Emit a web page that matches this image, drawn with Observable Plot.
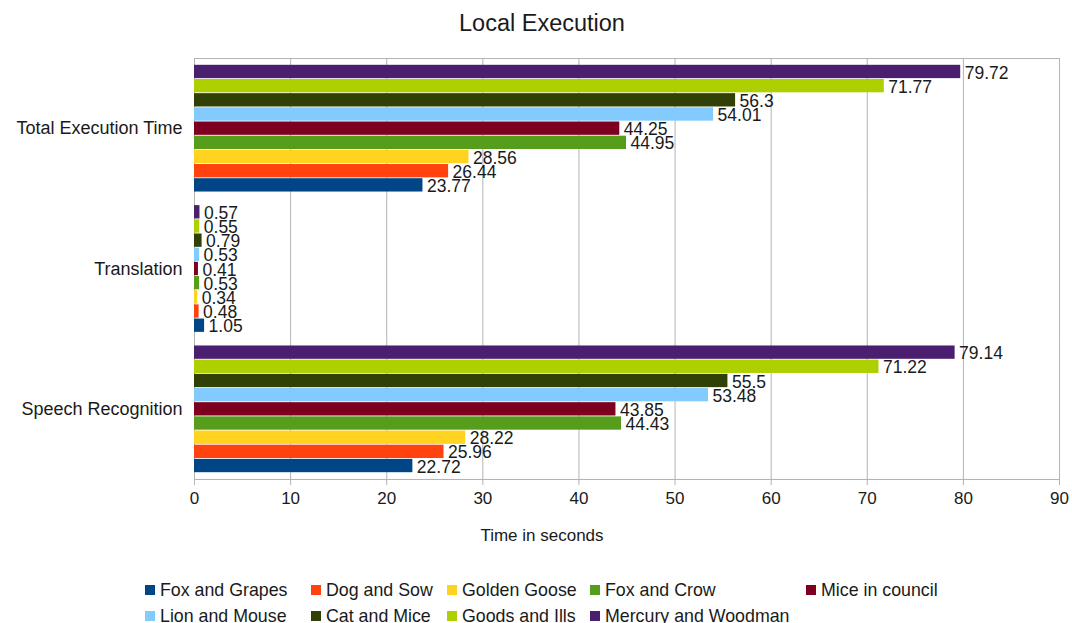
<!DOCTYPE html>
<html>
<head>
<meta charset="utf-8">
<script src="https://cdn.jsdelivr.net/npm/d3@7"></script>
<script src="https://cdn.jsdelivr.net/npm/@observablehq/plot@0.6"></script>
<style>
  html, body { margin: 0; padding: 0; background: #fff; }
  body { width: 1072px; height: 623px; overflow: hidden; font-family: "Liberation Sans", Arial, sans-serif; color: #1a1a1a; }
  #title { height: 46px; line-height: 46px; text-align: center; font-size: 23.5px; padding-left: 12px; }
  #chart { height: 465px; }
  #xtitle { height: 50px; line-height: 50px; text-align: center; font-size: 17px; padding-left: 12px; }
  #legend { margin-top: 16px; margin-left: 142px; display: grid; grid-template-columns: 166px 136px 143px 216px 170px; grid-auto-rows: 26px; font-size: 17.8px; }
  .item { display: flex; align-items: center; white-space: nowrap; }
  .sw { width: 10px; height: 10px; margin-left: 3px; margin-right: 5px; flex: none; }
</style>
</head>
<body>
<div id="title">Local Execution</div>
<div id="chart"></div>
<div id="xtitle">Time in seconds</div>
<div id="legend"></div>
<script>
const categories = ["Total Execution Time", "Translation", "Speech Recognition"];
const series = ["Fox and Grapes", "Dog and Sow", "Golden Goose", "Fox and Crow", "Mice in council", "Lion and Mouse", "Cat and Mice", "Goods and Ills", "Mercury and Woodman"];
const colors = ["#004586", "#ff420e", "#ffd320", "#579d1c", "#7e0021", "#83caff", "#314004", "#aecf00", "#4b1f6f"];
const totalValues = [23.77, 26.44, 28.56, 44.95, 44.25, 54.01, 56.3, 71.77, 79.72];
const translationValues = [1.05, 0.48, 0.34, 0.53, 0.41, 0.53, 0.79, 0.55, 0.57];
const speechValues = [22.72, 25.96, 28.22, 44.43, 43.85, 53.48, 55.5, 71.22, 79.14];
const xTicks = [0, 10, 20, 30, 40, 50, 60, 70, 80, 90];

const valuesByCategory = [totalValues, translationValues, speechValues];
const data = [];
categories.forEach((c, ci) => {
  series.forEach((s, si) => data.push({category: c, series: s, value: valuesByCategory[ci][si]}));
});

const grid = "#b3b3b3";
const chart = Plot.plot({
  width: 1072,
  height: 465,
  marginTop: 12,
  marginBottom: 32,
  marginLeft: 194,
  marginRight: 13,
  style: {fontFamily: "'Liberation Sans', Arial, sans-serif", fontSize: "18px", color: "#1a1a1a", background: "#fff"},
  x: {domain: [0, 90], ticks: xTicks},
  y: {domain: series.slice().reverse(), paddingInner: 0.06, paddingOuter: 0.48, round: false, axis: null},
  fy: {domain: categories, padding: 0, round: false},
  color: {domain: series, range: colors},
  marks: [
    Plot.gridX(xTicks, {stroke: grid, strokeOpacity: 1}),
    Plot.frame({anchor: "top", stroke: grid, fy: [categories[0]]}),
    Plot.frame({anchor: "bottom", stroke: grid, fy: [categories[2]]}),
    Plot.ruleX([0], {stroke: grid}),
    Plot.barX(data, {x: "value", y: "series", fy: "category", fill: "series"}),
    Plot.text(data, {x: "value", y: "series", fy: "category", text: d => String(d.value), dx: 4, dy: 1, textAnchor: "start", fontSize: 17.5, fill: "#1a1a1a"}),
    Plot.axisX({anchor: "bottom", ticks: xTicks, tickSize: 6, tickPadding: 6, stroke: grid, label: null, fontSize: 17}),
    Plot.axisFy({anchor: "left", tickSize: 0, tickPadding: 12, label: null, fontSize: 18})
  ]
});
document.getElementById("chart").appendChild(chart);

const legend = document.getElementById("legend");
series.forEach((s, i) => {
  const it = document.createElement("div");
  it.className = "item";
  const sw = document.createElement("span");
  sw.className = "sw";
  sw.style.background = colors[i];
  const t = document.createElement("span");
  t.textContent = s;
  it.appendChild(sw); it.appendChild(t);
  legend.appendChild(it);
});
</script>
</body>
</html>
